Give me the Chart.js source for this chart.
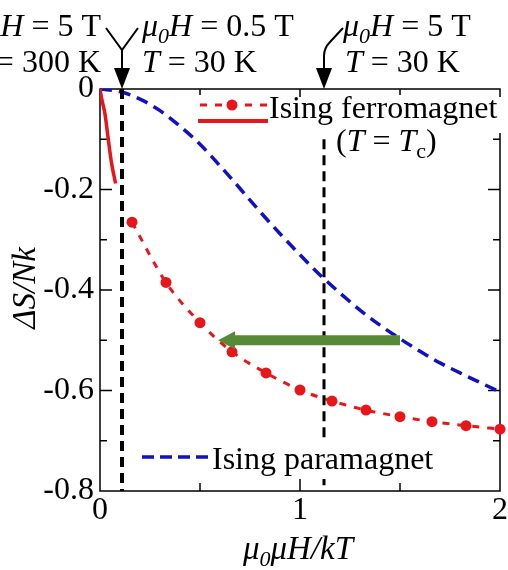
<!DOCTYPE html>
<html>
<head>
<meta charset="utf-8">
<script src="https://cdn.jsdelivr.net/npm/chart.js@4.4.1/dist/chart.umd.min.js"></script>
<style>
  html, body { margin: 0; padding: 0; background: #fff; }
</style>
</head>
<body>
<canvas id="entropyChart" width="508" height="570"></canvas>
<script>
// Ising paramagnet (blue dashed)
const paraX = [0, 0.1, 0.2, 0.3, 0.4, 0.5, 0.6, 0.7, 0.8, 0.9, 1.0, 1.1, 1.2, 1.3, 1.4, 1.5, 1.6, 1.7, 1.8, 1.9, 2.0];
const paraY = [0, -0.005, -0.02, -0.043, -0.074, -0.11, -0.153, -0.198, -0.244, -0.288, -0.33, -0.37, -0.406, -0.44, -0.47, -0.497, -0.522, -0.545, -0.565, -0.584, -0.603];

// Ising ferromagnet at T = Tc (red dots + dotted line)
const ferroX = [0.16, 0.33, 0.5, 0.66, 0.83, 1.0, 1.16, 1.33, 1.5, 1.66, 1.83, 2.0];
const ferroY = [-0.265, -0.385, -0.465, -0.523, -0.565, -0.599, -0.621, -0.639, -0.652, -0.662, -0.670, -0.677];

// Ising ferromagnet, low field part (red solid)
const lowX = [0, 0.01, 0.025, 0.042, 0.058, 0.078];
const lowY = [0, -0.022, -0.05, -0.102, -0.148, -0.188];

// field markers (black dashed verticals) and where they start
const markX = [0.11, 1.12];
const markTop = [0, -0.1];

// green arrow
const arrowFrom = 1.5;
const arrowTo = 0.59;
const arrowY = -0.5;

const xTicks = { min: 0, max: 2, step: 0.5 };
const yTicks = { min: -0.8, max: 0, step: 0.1 };

const SERIF = '"Liberation Serif", "Times New Roman", serif';
const RED = '#e8161b';
const BLUE = '#1010c4';

const zip = (xs, ys) => xs.map((x, i) => ({ x: x, y: ys[i] }));

function richText(ctx, segs, x, y, align, size) {
    size = size || 32;
    const parts = segs.map(([t, st]) => {
        const sub = st.endsWith('s');
        const font = (st[0] === 'i' ? 'italic ' : '') + (sub ? Math.round(size * 0.68) : size) + 'px ' + SERIF;
        ctx.font = font;
        return { t, font, sub, w: ctx.measureText(t).width };
    });
    const total = parts.reduce((a, p) => a + p.w, 0);
    let cx = align === 'right' ? x - total : align === 'center' ? x - total / 2 : x;
    ctx.textAlign = 'left';
    ctx.textBaseline = 'alphabetic';
    ctx.fillStyle = '#000';
    parts.forEach(p => {
        ctx.font = p.font;
        ctx.fillText(p.t, cx, y + (p.sub ? size * 0.22 : 0));
        cx += p.w;
    });
}

const decor = {
    id: 'decor',
    beforeDatasetsDraw(chart) {
        const { ctx, chartArea: a, scales: { x, y } } = chart;
        ctx.save();
        ctx.strokeStyle = '#000';
        ctx.lineWidth = 1.5;
        ctx.strokeRect(a.left, a.top, a.right - a.left, a.bottom - a.top);
        // inward ticks
        y.ticks.forEach(t => {
            const k = Math.round(t.value * 10);
            if (k === 0 || k === -8) return;
            const py = y.getPixelForValue(t.value);
            const len = k % 2 === 0 ? 12 : 7;
            ctx.beginPath();
            ctx.moveTo(a.left, py); ctx.lineTo(a.left + len, py);
            ctx.moveTo(a.right, py); ctx.lineTo(a.right - len, py);
            ctx.stroke();
        });
        x.ticks.forEach(t => {
            if (t.value === 0 || t.value === 2) return;
            const px = x.getPixelForValue(t.value);
            const major = Number.isInteger(t.value);
            ctx.beginPath();
            ctx.moveTo(px, a.bottom); ctx.lineTo(px, a.bottom - (major ? 12 : 8));
            ctx.moveTo(px, a.top); ctx.lineTo(px, a.top + (major ? 10 : 6));
            ctx.stroke();
        });
        ctx.restore();
    },
    afterDatasetsDraw(chart) {
        const { ctx, chartArea: a, scales: { x, y } } = chart;
        ctx.save();

        // green arrow
        const gx0 = x.getPixelForValue(arrowFrom);
        const gx1 = x.getPixelForValue(arrowTo);
        const gy = y.getPixelForValue(arrowY);
        ctx.fillStyle = '#578936';
        ctx.fillRect(gx1 + 14, gy - 5, gx0 - gx1 - 14, 10);
        ctx.beginPath();
        ctx.moveTo(gx1, gy);
        ctx.lineTo(gx1 + 17, gy - 9);
        ctx.lineTo(gx1 + 17, gy + 9);
        ctx.closePath();
        ctx.fill();

        // arrows above the plot
        ctx.strokeStyle = '#000';
        ctx.fillStyle = '#000';
        ctx.lineWidth = 2;
        const ax0 = x.getPixelForValue(markX[0]);
        ctx.beginPath();
        ctx.moveTo(ax0 - 16, 28); ctx.lineTo(ax0, 50); ctx.lineTo(ax0 + 16, 28);
        ctx.moveTo(ax0, 50); ctx.lineTo(ax0, 72);
        ctx.stroke();
        ctx.beginPath();
        ctx.moveTo(ax0 - 8, 68); ctx.lineTo(ax0 + 8, 68); ctx.lineTo(ax0, a.top); ctx.closePath();
        ctx.fill();

        const ax1 = x.getPixelForValue(markX[1]);
        ctx.beginPath();
        ctx.moveTo(ax1 + 19, 28);
        ctx.lineTo(ax1 + 6, 42);
        ctx.quadraticCurveTo(ax1, 48, ax1, 56);
        ctx.lineTo(ax1, 72);
        ctx.stroke();
        ctx.beginPath();
        ctx.moveTo(ax1 - 8, 68); ctx.lineTo(ax1 + 8, 68); ctx.lineTo(ax1, a.top); ctx.closePath();
        ctx.fill();

        // annotations
        richText(ctx, [['μ', 'i'], ['0', 'is'], ['H', 'i'], [' = 5 T', 'r']], 101, 36, 'right');
        richText(ctx, [['T', 'i'], [' = 300 K', 'r']], 101, 72, 'right');
        richText(ctx, [['μ', 'i'], ['0', 'is'], ['H', 'i'], [' = 0.5 T', 'r']], 142, 36, 'left');
        richText(ctx, [['T', 'i'], [' = 30 K', 'r']], 142, 72, 'left');
        richText(ctx, [['μ', 'i'], ['0', 'is'], ['H', 'i'], [' = 5 T', 'r']], 343, 36, 'left');
        richText(ctx, [['T', 'i'], [' = 30 K', 'r']], 345, 72, 'left');

        // legend: ferromagnet
        ctx.fillStyle = '#fff';
        ctx.fillRect(266, 97, 240, 36);
        ctx.strokeStyle = RED;
        ctx.lineWidth = 3;
        ctx.setLineDash([7, 8]);
        ctx.beginPath(); ctx.moveTo(200, 105); ctx.lineTo(268, 105); ctx.stroke();
        ctx.setLineDash([]);
        ctx.fillStyle = RED;
        ctx.beginPath(); ctx.arc(232, 105, 5.5, 0, Math.PI * 2); ctx.fill();
        ctx.lineWidth = 4;
        ctx.beginPath(); ctx.moveTo(198, 121); ctx.lineTo(268, 121); ctx.stroke();
        richText(ctx, [['Ising ferromagnet', 'r']], 269, 118, 'left');
        richText(ctx, [['(', 'r'], ['T', 'i'], [' = ', 'r'], ['T', 'i'], ['c', 'rs'], [')', 'r']], 336, 151, 'left');

        // legend: paramagnet
        ctx.fillStyle = '#fff';
        ctx.fillRect(210, 442, 236, 37);
        ctx.strokeStyle = BLUE;
        ctx.lineWidth = 3.5;
        ctx.setLineDash([12, 6]);
        ctx.beginPath(); ctx.moveTo(142, 457); ctx.lineTo(212, 457); ctx.stroke();
        ctx.setLineDash([]);
        richText(ctx, [['Ising paramagnet', 'r']], 212, 469, 'left');

        // axis titles
        richText(ctx, [['μ', 'i'], ['0', 'is'], ['μH/kT', 'i']], 298, 559, 'center', 33);
        ctx.save();
        ctx.translate(35, 288);
        ctx.rotate(-Math.PI / 2);
        richText(ctx, [['ΔS/Nk', 'i']], 0, 0, 'center', 33);
        ctx.restore();

        ctx.restore();
    }
};

const tickFont = { family: SERIF, size: 32 };

new Chart(document.getElementById('entropyChart'), {
    type: 'line',
    data: {
        datasets: [
            {
                label: 'marker low',
                data: [{ x: markX[0], y: markTop[0] }, { x: markX[0], y: yTicks.min }],
                borderColor: '#000', borderWidth: 4, borderDash: [10, 6], pointRadius: 0
            },
            {
                label: 'marker high',
                data: [{ x: markX[1], y: markTop[1] }, { x: markX[1], y: yTicks.min }],
                borderColor: '#000', borderWidth: 3, borderDash: [10, 6], pointRadius: 0
            },
            {
                label: 'Ising ferromagnet',
                data: zip(ferroX, ferroY),
                borderColor: RED, borderWidth: 3, borderDash: [7, 8],
                pointRadius: 5.5, pointBackgroundColor: RED, pointBorderWidth: 0,
                cubicInterpolationMode: 'monotone', clip: false
            },
            {
                label: 'Ising ferromagnet low field',
                data: zip(lowX, lowY),
                borderColor: RED, borderWidth: 3.5, pointRadius: 0,
                cubicInterpolationMode: 'monotone'
            },
            {
                label: 'Ising paramagnet',
                data: zip(paraX, paraY),
                borderColor: BLUE, borderWidth: 3.5, borderDash: [12, 7], pointRadius: 0,
                cubicInterpolationMode: 'monotone'
            }
        ]
    },
    options: {
        responsive: false,
        animation: false,
        layout: { padding: { top: 89, right: 8, bottom: 0, left: 0 } },
        plugins: { legend: { display: false }, tooltip: { enabled: false } },
        scales: {
            x: {
                type: 'linear',
                min: xTicks.min, max: xTicks.max,
                afterFit: s => { s.height = 79; },
                grid: { display: false, drawTicks: false },
                border: { display: false },
                ticks: {
                    stepSize: xTicks.step, autoSkip: false, maxRotation: 0, padding: 0,
                    color: '#000', font: tickFont,
                    callback: v => Number.isInteger(v) ? String(v) : ''
                }
            },
            y: {
                min: yTicks.min, max: yTicks.max,
                afterFit: s => { s.width = 100; },
                grid: { display: false, drawTicks: false },
                border: { display: false },
                ticks: {
                    stepSize: yTicks.step, autoSkip: false, padding: 6,
                    color: '#000', font: tickFont,
                    callback: v => {
                        const k = Math.round(v * 10);
                        if (k % 2 !== 0) return '';
                        return k === 0 ? '0' : (k / 10).toFixed(1);
                    }
                }
            }
        }
    },
    plugins: [decor]
});
</script>
</body>
</html>
